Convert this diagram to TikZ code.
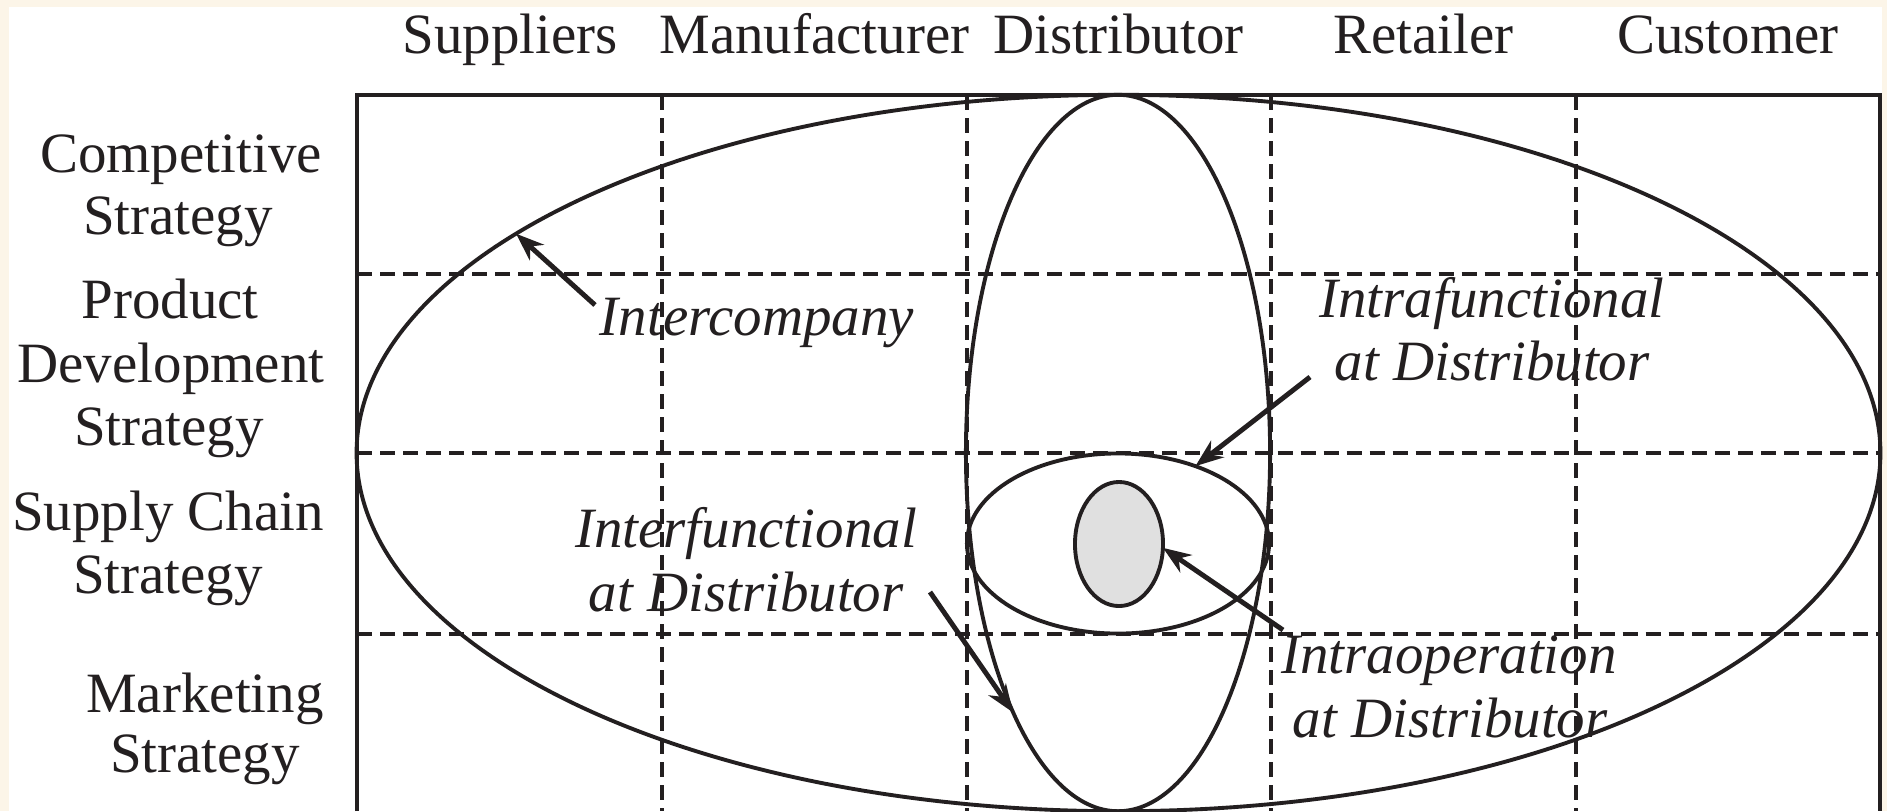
\documentclass[tikz,border=0pt]{standalone}
\usepackage{fontspec}
\setmainfont{Liberation Serif}
\usetikzlibrary{shapes.geometric,arrows.meta}
\definecolor{cream}{RGB}{252,245,232}
\definecolor{ink}{RGB}{35,31,32}
\definecolor{shade}{RGB}{224,224,224}
\begin{document}
\begin{tikzpicture}[x=0.01cm,y=-0.01cm,
  lbl/.style={font=\fontsize{16.2}{19}\selectfont, text=ink, inner sep=0, anchor=base},
  ilbl/.style={lbl, font=\fontsize{16.2}{19}\selectfont\itshape},
  gridline/.style={draw=ink, line width=1.05pt, dash pattern=on 0.15cm off 0.08cm},
  oval/.style={ellipse, draw=ink, line width=1.1pt, inner sep=0, outer sep=0},
  pointer/.style={draw=ink, line width=1.4pt, -{Stealth[length=0.28cm,width=0.21cm,inset=0.09cm]}}]
\fill[cream] (0,0) rectangle (1887,811);
\fill[white] (9,7) rectangle (1882,811);
\useasboundingbox (0,0) rectangle (1887,811);

% grid
\foreach \x in {662,967,1271,1576} \draw[gridline] (\x,95) -- (\x,811);
\foreach \y in {274,453,634} \draw[gridline] (357,\y) -- (1880,\y);
% frame
\draw[ink, line width=1.25pt] (357,811) -- (357,95) -- (1880,95) -- (1880,811);

% ellipses
\node[oval, minimum width=15.23cm, minimum height=7.16cm] (inter) at (1118.5,453) {};
\node[oval, minimum width=3.04cm, minimum height=7.16cm] (tall) at (1118,453) {};
\node[oval, minimum width=3.02cm, minimum height=1.80cm] (func) at (1118,543.5) {};
\node[oval, fill=shade, minimum width=0.88cm, minimum height=1.24cm] (op) at (1119,544) {};

% column headers
\node[lbl] (hSup) at (510,53) {Suppliers};
\node[lbl] (hMan) at (814.5,53) {Manufacturer};
\node[lbl] (hDis) at (1118.5,53) {Distributor};
\node[lbl] (hRet) at (1423.5,53) {Retailer};
\node[lbl] (hCus) at (1728,53) {Customer};

% row labels
\node[lbl] (rC1) at (181,172) {Competitive};
\node[lbl] (rC2) at (178,234) {Strategy};
\node[lbl] (rP1) at (170,318) {Product};
\node[lbl] (rP2) at (171,382) {Development};
\node[lbl] (rP3) at (169,445) {Strategy};
\node[lbl] (rS1) at (168,530) {Supply Chain};
\node[lbl] (rS2) at (168,593) {Strategy};
\node[lbl] (rM1) at (205,712) {Marketing};
\node[lbl] (rM2) at (205,772) {Strategy};

% italic labels
\node[ilbl] (lIC) at (757,335) {Intercompany};
\node[ilbl] (lIF1) at (1492,317) {Intrafunctional};
\node[ilbl] (lIF2) at (1492,380) {at Distributor};
\node[ilbl] (lEF1) at (746,547) {Interfunctional};
\node[ilbl] (lEF2) at (746,611) {at Distributor};
\node[ilbl] (lIO1) at (1449,673) {Intraoperation};
\node[ilbl] (lIO2) at (1450,737) {at Distributor};

% arrows
\coordinate (tIC) at (595,305);
\coordinate (tIF) at (1310,377);
\coordinate (tEF) at (930,592);
\coordinate (tIO) at (1283,630);
\draw[pointer] (tIC) -- (inter.160.2);
\draw[pointer] (tIF) -- (func.45);
\draw[pointer] (tEF) -- (tall.248);
\draw[pointer] (tIO) -- (op.-5);
\end{tikzpicture}
\end{document}
